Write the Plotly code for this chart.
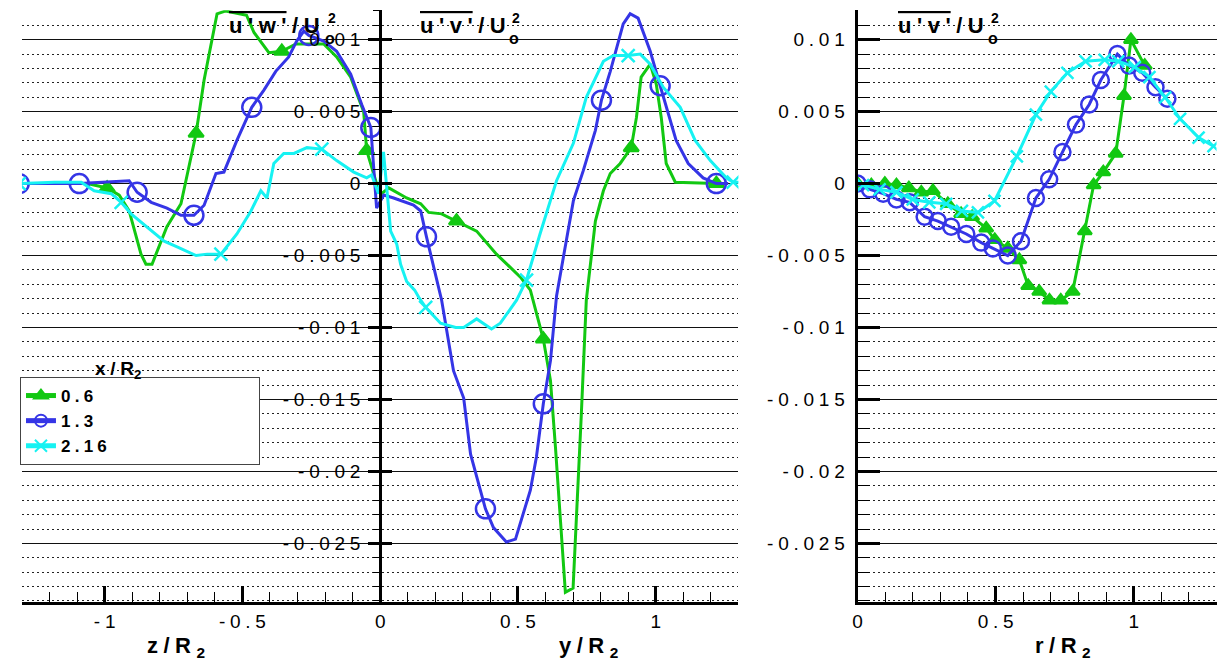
import plotly.graph_objects as go

# x/R2 stations
stations = ["0.6", "1.3", "2.16"]

# left panel, z < 0 : u'w'/Uo^2 ; y > 0 : u'v'/Uo^2
z_06 = [-1.30, -1.18, -1.063, -0.991, -0.947, -0.911, -0.868, -0.850, -0.828, -0.774, -0.723, -0.668, -0.639,
        -0.592, -0.560, -0.485, -0.458, -0.404, -0.357, -0.306, -0.205, -0.158, -0.107, -0.060, -0.049, -0.013]
uw_06 = [0.0, 0.0, 0.0, -0.0003, -0.0008, -0.0019, -0.0049, -0.0056, -0.0056, -0.0030, -0.0014, 0.0035, 0.0072,
         0.0118, 0.0120, 0.0117, 0.0105, 0.0091, 0.0092, 0.0097, 0.0097, 0.0088, 0.0074, 0.0050, 0.0023, 0.0]
y_06 = [0.005, 0.031, 0.096, 0.147, 0.176, 0.223, 0.277, 0.350, 0.422, 0.509, 0.545, 0.592, 0.618, 0.636, 0.672,
        0.700, 0.730, 0.748, 0.781, 0.810, 0.835, 0.871, 0.911, 0.930, 0.947, 0.980, 1.002, 1.020, 1.038, 1.071, 1.220]
uv_06 = [-0.0007, -0.0003, -0.0010, -0.0014, -0.0020, -0.0021, -0.0026, -0.0033, -0.0049, -0.0065, -0.0074, -0.0108,
         -0.0137, -0.0183, -0.0284, -0.0281, -0.0160, -0.0081, -0.0026, -0.0005, 0.0007, 0.0014, 0.0025, 0.0046,
         0.0074, 0.0083, 0.0069, 0.0046, 0.0014, 0.0001, 0.0]

z_13 = [-1.310, -1.092, -0.911, -0.882, -0.831, -0.774, -0.723, -0.676, -0.639, -0.596, -0.567, -0.520, -0.466,
        -0.422, -0.379, -0.332, -0.303, -0.277, -0.259, -0.205, -0.158, -0.107, -0.067, -0.034, -0.013]
uw_13 = [0.0, 0.0, 0.0002, -0.0006, -0.0013, -0.0017, -0.0022, -0.0022, -0.0015, 0.0007, 0.0008, 0.0030, 0.0053,
         0.0065, 0.0078, 0.0088, 0.0099, 0.0106, 0.0103, 0.0099, 0.0092, 0.0076, 0.0055, 0.0039, -0.0017]
y_13 = [0.013, 0.049, 0.121, 0.147, 0.168, 0.223, 0.266, 0.303, 0.328, 0.382, 0.411, 0.458, 0.491, 0.545, 0.567,
        0.592, 0.618, 0.640, 0.701, 0.737, 0.781, 0.803, 0.835, 0.882, 0.907, 0.936, 0.980, 1.016, 1.038, 1.074,
        1.118, 1.172, 1.220, 1.263]
uv_13 = [-0.0008, -0.0010, -0.0015, -0.0019, -0.0037, -0.0081, -0.0130, -0.0149, -0.0188, -0.0226, -0.0239, -0.0249,
         -0.0247, -0.0213, -0.0190, -0.0153, -0.0123, -0.0078, -0.0012, 0.0009, 0.0037, 0.0058, 0.0078, 0.0111,
         0.0118, 0.0115, 0.0092, 0.0068, 0.0053, 0.0030, 0.0014, 0.0004, 0.0, 0.0]

z_216 = [-1.310, -1.182, -1.085, -1.038, -0.976, -0.940, -0.904, -0.846, -0.784, -0.737, -0.668, -0.628, -0.578,
         -0.520, -0.469, -0.433, -0.411, -0.386, -0.350, -0.313, -0.266, -0.212, -0.158, -0.096, -0.049, -0.031,
         -0.017, -0.006]
uw_216 = [0.0, 0.0001, 0.0001, -0.0005, -0.0007, -0.0013, -0.0021, -0.0030, -0.0040, -0.0044, -0.0050, -0.0049,
          -0.0049, -0.0035, -0.0019, -0.0005, -0.0010, 0.0014, 0.0021, 0.0021, 0.0025, 0.0024, 0.0016, 0.0008,
          0.0004, 0.0006, -0.0001, -0.0007]
y_216 = [0.012, 0.038, 0.060, 0.074, 0.096, 0.125, 0.140, 0.165, 0.219, 0.274, 0.303, 0.350, 0.404, 0.436, 0.495,
         0.531, 0.580, 0.640, 0.701, 0.748, 0.810, 0.846, 0.900, 0.944, 0.980, 1.027, 1.089, 1.143, 1.198, 1.256,
         1.281, 1.306]
uv_216 = [0.0022, -0.0033, -0.0042, -0.0056, -0.0068, -0.0074, -0.0079, -0.0086, -0.0097, -0.0100, -0.0100, -0.0094,
          -0.0101, -0.0097, -0.0081, -0.0067, -0.0035, 0.0002, 0.0028, 0.0060, 0.0085, 0.0089, 0.0089, 0.0090,
          0.0083, 0.0067, 0.0053, 0.0030, 0.0016, 0.0004, 0.0001, 0.0001]

# which points carry a symbol (index into the z / y lists)
zmark = [[3, 11, 18, 24], [0, 1, 3, 7, 12, 18, 23], [0, 5, 12, 21]]
ymark = [[6, 11, 22, 30], [4, 9, 15, 21, 27, 32], [7, 15, 22, 30]]

# right panel: u'v'/Uo^2 against r
r_06 = [0.0, 0.05, 0.099, 0.141, 0.186, 0.231, 0.273, 0.327, 0.375, 0.415, 0.466, 0.497, 0.544, 0.586, 0.618,
        0.658, 0.695, 0.736, 0.779, 0.823, 0.855, 0.89, 0.935, 0.965, 0.99, 1.04]
uvr_06 = [0.0, -0.0001, 0.0, -0.0001, -0.0003, -0.0006, -0.0005, -0.0014, -0.0021, -0.0023, -0.0031, -0.0039,
          -0.0045, -0.0053, -0.0071, -0.0075, -0.0081, -0.0081, -0.0075, -0.0033, -0.0001, 0.0008, 0.0021, 0.0061,
          0.0100, 0.0082]
r_13 = [0.0, 0.045, 0.093, 0.141, 0.189, 0.243, 0.291, 0.339, 0.394, 0.448, 0.490, 0.544, 0.592, 0.646, 0.694,
        0.742, 0.791, 0.839, 0.881, 0.941, 0.983, 1.031, 1.079, 1.122]
uvr_13 = [0.0, -0.0004, -0.0007, -0.0011, -0.0013, -0.0023, -0.0026, -0.0030, -0.0035, -0.0041, -0.0045, -0.0050,
          -0.0040, -0.0010, 0.0003, 0.0022, 0.0041, 0.0055, 0.0072, 0.0090, 0.0082, 0.0077, 0.0067, 0.0059]
r_216 = [0.02, 0.08, 0.141, 0.2, 0.26, 0.321, 0.378, 0.436, 0.496, 0.577, 0.646, 0.7, 0.76, 0.826, 0.895, 0.944,
         1.004, 1.057, 1.114, 1.168, 1.235, 1.289]
uvr_216 = [-0.0001, -0.0004, -0.0006, -0.0011, -0.0013, -0.0014, -0.0019, -0.0020, -0.0012, 0.0019, 0.0048, 0.0064,
           0.0077, 0.0085, 0.0086, 0.0085, 0.0081, 0.0074, 0.0060, 0.0045, 0.0032, 0.0026]

y_ticks = [0.01, 0.005, 0, -0.005, -0.01, -0.015, -0.02, -0.025]
y_ticklabels = ["0.01", "0.005", "0", "-0.005", "-0.01", "-0.015", "-0.02", "-0.025"]
xl_ticks = [-1, -0.5, 0, 0.5, 1]
xl_ticklabels = ["-1", "-0.5", "0", "0.5", "1"]
xr_ticks = [0, 0.5, 1]
xr_ticklabels = ["0", "0.5", "1"]

colors = ["#12c812", "#3535e6", "#16f2f2"]
symbols = ["triangle-up", "circle-open", "x-thin-open"]
msize_l = [13, 19, 13]
msize_r = [12, 16, 12]
FONT = "Liberation Sans, Arial, sans-serif"

# the page body adds an 8px margin, so work in page pixels and shift
W, H, OFF = 1217.0, 661.0, 8


def px(x):
    return (x - OFF) / W


def py(y):
    return 1 - (y - OFF) / H


def spaced(s):
    return "\u2005".join(s)


left = [(z_06, uw_06, y_06, uv_06), (z_13, uw_13, y_13, uv_13), (z_216, uw_216, y_216, uv_216)]
right = [(r_06, uvr_06), (r_13, uvr_13), (r_216, uvr_216)]

fig = go.Figure()

for i, (zz, uw, yy, uv) in enumerate(left):
    xs = zz + yy
    vs = uw + uv
    marks = zmark[i] + [len(zz) + k for k in ymark[i]]
    fig.add_trace(go.Scatter(x=xs, y=vs, mode="lines", showlegend=False,
                             line=dict(color=colors[i], width=3), xaxis="x", yaxis="y"))
    fig.add_trace(go.Scatter(x=[xs[k] for k in marks], y=[vs[k] for k in marks], mode="markers",
                             showlegend=False,
                             marker=dict(symbol=symbols[i], size=msize_l[i], color=colors[i],
                                         line=dict(color=colors[i], width=2.5)),
                             xaxis="x", yaxis="y"))

for i, (rr, uv) in enumerate(right):
    fig.add_trace(go.Scatter(
        x=rr, y=uv, mode="lines+markers", showlegend=False,
        line=dict(color=colors[i], width=3),
        marker=dict(symbol=symbols[i], size=msize_r[i], color=colors[i],
                    line=dict(color=colors[i], width=2.5)),
        xaxis="x2", yaxis="y2"))

# legend entries
for i, s in enumerate(stations):
    fig.add_trace(go.Scatter(x=[None], y=[None], mode="lines+markers", name=spaced(s) + "\u00a0" * 31,
                             line=dict(color=colors[i], width=3),
                             marker=dict(symbol=symbols[i], size=12, color=colors[i],
                                         line=dict(color=colors[i], width=2.5)),
                             xaxis="x", yaxis="y"))

# empty trace so the right-hand half of the centre ticks shows
fig.add_trace(go.Scatter(x=[None], y=[None], xaxis="x", yaxis="y3", showlegend=False, hoverinfo="skip"))

yr = [-0.0291, 0.01205]
ydom = [py(602.4), py(10.2)]
ytext = [spaced(t) for t in y_ticklabels]
tickfont = dict(family=FONT, size=19, color="black")

grid = dict(range=yr, domain=ydom, tickmode="array", tickvals=y_ticks, ticktext=ytext, tickfont=tickfont,
            showgrid=True, gridcolor="#111", gridwidth=1, zeroline=False,
            showline=True, linecolor="black", linewidth=3, tickcolor="black", tickwidth=3)
minor = dict(dtick=0.001, tick0=0, showgrid=True, gridcolor="#222", gridwidth=1,
             griddash="2px,3px", tickcolor="black", tickwidth=1)
xminor = dict(dtick=0.1, tick0=0, ticks="inside", ticklen=10, tickwidth=1, tickcolor="black")

fig.update_layout(
    width=W, height=H,
    margin=dict(l=0, r=0, t=0, b=0),
    paper_bgcolor="white", plot_bgcolor="white",
    font=dict(family=FONT, color="black"),
    xaxis=dict(domain=[px(17), px(736.4)], range=[-1.3, 1.3], anchor="y",
               tickmode="array", tickvals=xl_ticks, ticktext=[spaced(t) for t in xl_ticklabels],
               tickfont=tickfont, ticks="inside", ticklen=16, tickwidth=3, tickcolor="black",
               ticklabelstandoff=0,
               showline=True, linecolor="black", linewidth=3, showgrid=False, zeroline=False,
               minor=xminor),
    yaxis=dict(anchor="free", position=px(376.7), ticks="outside", ticklen=11, ticklabelstandoff=4,
               minor=dict(minor, ticks="outside", ticklen=6), **grid),
    yaxis3=dict(overlaying="y", anchor="free", position=px(376.7), side="right", range=yr,
                tickmode="array", tickvals=y_ticks, ticks="outside", ticklen=11, tickwidth=3,
                tickcolor="black", showticklabels=False, showgrid=False, zeroline=False, showline=False),
    xaxis2=dict(domain=[px(856), px(1216.5)], range=[0, 1.3], anchor="y2",
                tickmode="array", tickvals=xr_ticks, ticktext=[spaced(t) for t in xr_ticklabels],
                tickfont=tickfont, ticks="inside", ticklen=16, tickwidth=3, tickcolor="black",
                ticklabelstandoff=0,
                showline=True, linecolor="black", linewidth=3, showgrid=False, zeroline=False,
                minor=xminor),
    yaxis2=dict(anchor="x2", ticks="inside", ticklen=22, ticklabelstandoff=6,
                minor=dict(minor, ticks="inside", ticklen=12), **grid),
    legend=dict(x=px(15), y=py(377), xanchor="left", yanchor="top",
                bgcolor="white", bordercolor="#444", borderwidth=1, itemsizing="constant",
                font=dict(family=FONT, size=17, color="black", weight="bold"),
                tracegroupgap=0),
    showlegend=True,
)


def bold(s):
    return dict(family=FONT, size=s, color="black", weight="bold")


notes = [
    # axis titles
    dict(text=spaced("z/R") + "\u2005<sub>2</sub>", x=-0.741, xref="x", y=py(647), font=bold(22)),
    dict(text=spaced("y/R") + "\u2005<sub>2</sub>", x=0.755, xref="x", y=py(647), font=bold(22)),
    dict(text=spaced("r/R") + "\u2005<sub>2</sub>", x=0.744, xref="x2", y=py(647), font=bold(22)),
    # legend heading
    dict(text=spaced("x/R") + "<sub>2</sub>", x=px(113), y=py(370), font=bold(19)),
]
# panel headings: overlined correlation, then the stacked 2 / o of Uo^2
titles = [("u'w'", 223, 328), ("u'v'", 415, 513), ("u'v'", 895, 994)]
for txt, x0, x2 in titles:
    notes.append(dict(text="<span style='text-decoration:overline'>" + spaced(txt) + "</span>\u2005/\u2005U",
                      x=px(x0), xanchor="left", y=py(25), font=bold(22)))
    notes.append(dict(text="2", x=px(x2), y=py(18), font=bold(14)))
    notes.append(dict(text="o", x=px(x2 - 2), y=py(38), font=bold(16)))

for n in notes:
    n.setdefault("xref", "paper")
    n.setdefault("yref", "paper")
    n.setdefault("xanchor", "center")
    n.setdefault("yanchor", "middle")
    fig.add_annotation(showarrow=False, **n)

fig.write_html("out.html")
